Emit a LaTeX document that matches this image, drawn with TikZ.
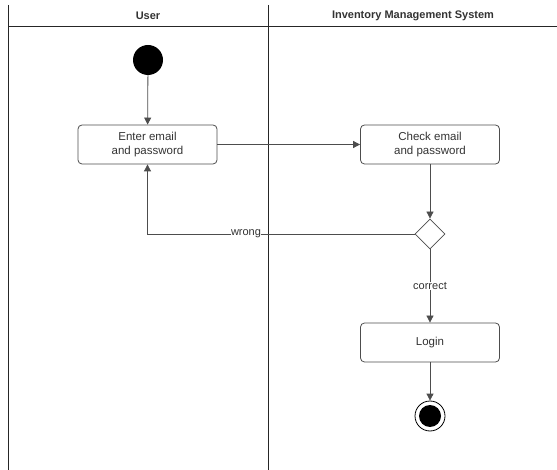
\documentclass[tikz,border=0pt]{standalone}
\usepackage{fontspec}
\setmainfont{Liberation Sans}
\usetikzlibrary{arrows.meta,shapes.geometric}
\definecolor{linegray}{HTML}{4D4D4D}
\definecolor{textgray}{HTML}{333333}
\begin{document}
\begin{tikzpicture}[x=1pt,y=-1pt,
  lane/.style={draw=black!85,line width=0.9pt},
  action/.style={draw=linegray,rounded corners=4pt,minimum width=139pt,minimum height=39pt,
    align=center,font=\fontsize{11.5}{14}\selectfont,text=textgray,line width=0.8pt},
  flow/.style={draw=linegray,line width=0.8pt,-{Triangle[length=7pt,width=7pt]}},
  lbl/.style={font=\fontsize{11}{13}\selectfont,text=textgray,fill=white,inner sep=0pt},
  header/.style={font=\bfseries\fontsize{11}{13}\selectfont,text=textgray}]
\useasboundingbox (0,0) rectangle (557,470);
% swimlanes
\draw[lane] (8,5) -- (8,470);
\draw[lane] (268,5) -- (268,470);
\draw[lane] (8,26) -- (557,26);
\node[header] (huser) at (148,16) {User};
\node[header] (hsys) at (413,16) {Inventory Management System};
% nodes
\node[circle,fill=black,minimum size=30pt,inner sep=0pt] (start) at (148,60) {};
\node[action] (enter) at (147.5,144.5) {Enter email\\and password};
\node[action] (check) at (430,144.5) {Check email\\and password};
\node[diamond,draw=linegray,fill=white,line width=0.8pt,minimum width=30pt,minimum height=30pt,inner sep=0pt] (dec) at (430,234) {};
\node[action] (login) at (430,342.5) {Login};
\node[circle,draw=black,line width=0.8pt,minimum size=30pt,inner sep=0pt] (end) at (430,416) {};
\node[circle,fill=black,minimum size=22pt,inner sep=0pt] (endin) at (430,416) {};
% flows
\draw[flow] (start) -- (enter);
\draw[flow] (enter) -- (check);
\draw[flow] (check) -- (dec);
\draw[flow] (dec.west) -| (enter.south);
\node[lbl] (wrong) at (246,234) {wrong};
\draw[flow] (dec) -- (login);
\node[lbl] (correct) at (430,286) {correct};
\draw[flow] (login) -- (end);
\end{tikzpicture}
\end{document}
